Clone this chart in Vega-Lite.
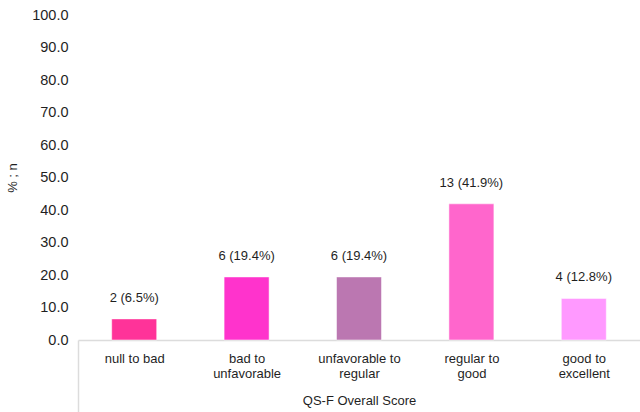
{
  "$schema": "https://vega.github.io/schema/vega-lite/v6.json",
  "autosize": "none",
  "padding": {"left": 78, "top": 15, "right": 0, "bottom": 72},
  "width": 562,
  "height": 325,
  "background": "white",
  "config": {
    "view": {"stroke": null},
    "font": "Liberation Sans",
    "text": {"font": "Liberation Sans"}
  },
  "data": {
    "values": [
      {"cat": "null to bad", "pct": 6.5, "label": "2 (6.5%)"},
      {"cat": "bad to\nunfavorable", "pct": 19.4, "label": "6 (19.4%)"},
      {"cat": "unfavorable to\nregular", "pct": 19.4, "label": "6 (19.4%)"},
      {"cat": "regular to\ngood", "pct": 41.9, "label": "13 (41.9%)"},
      {"cat": "good to\nexcellent", "pct": 12.8, "label": "4 (12.8%)"}
    ]
  },
  "encoding": {
    "x": {
      "field": "cat",
      "type": "nominal",
      "sort": null,
      "scale": {"paddingInner": 0, "paddingOuter": 0},
      "axis": {
        "title": "QS-F Overall Score",
        "titleFont": "Liberation Sans",
        "titleFontSize": 13,
        "titleFontWeight": "normal",
        "titleColor": "#1f1f1f",
        "titleY": 54,
        "titleBaseline": "top",
        "labelAngle": 0,
        "labelExpr": "split(datum.label, '\\n')",
        "labelFont": "Liberation Sans",
        "labelFontSize": 13,
        "labelColor": "#1f1f1f",
        "labelLineHeight": 15,
        "labelPadding": -60,
        "labelBaseline": "top",
        "domainColor": "#dcdcdc",
        "domainWidth": 1.5,
        "ticks": true,
        "tickBand": "extent",
        "tickSize": 72,
        "tickWidth": 1.5,
        "tickColor": {"condition": {"test": "!!datum.extra", "value": "#dcdcdc"}, "value": "transparent"}
      }
    },
    "y": {
      "field": "pct",
      "type": "quantitative",
      "scale": {"domain": [0, 100]},
      "axis": {
        "title": "% ; n",
        "titleFont": "Liberation Sans",
        "titleFontSize": 13,
        "titleFontWeight": "normal",
        "titleColor": "#1f1f1f",
        "titlePadding": 12,
        "values": [0, 10, 20, 30, 40, 50, 60, 70, 80, 90, 100],
        "format": ".1f",
        "labelFont": "Liberation Sans",
        "labelFontSize": 14.5,
        "labelColor": "#1f1f1f",
        "labelPadding": 10,
        "domain": false,
        "ticks": false,
        "grid": false
      }
    }
  },
  "layer": [
    {
      "mark": {"type": "bar", "width": 45, "stroke": "#ffffff", "strokeOpacity": 0.5, "strokeWidth": 1},
      "encoding": {
        "color": {
          "field": "cat",
          "type": "nominal",
          "sort": null,
          "scale": {"range": ["#FF3399", "#FF33CC", "#BB77B1", "#FF66CC", "#FF99FF"]},
          "legend": null
        }
      }
    },
    {
      "mark": {"type": "text", "baseline": "alphabetic", "dy": -17, "fontSize": 13, "color": "#1f1f1f", "font": "Liberation Sans"},
      "encoding": {"text": {"field": "label"}}
    }
  ]
}
